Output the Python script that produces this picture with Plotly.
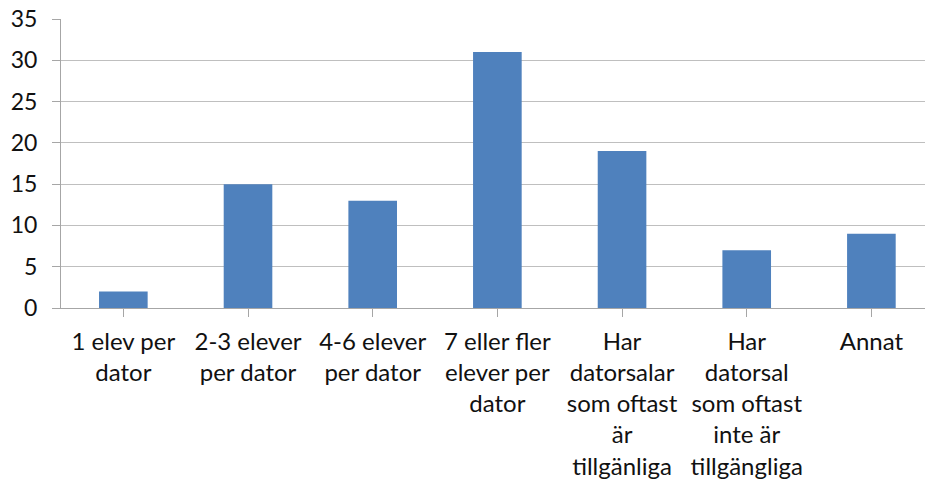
import plotly.graph_objects as go

categories = [
    "1 elev per<br>dator",
    "2-3 elever<br>per dator",
    "4-6 elever<br>per dator",
    "7 eller fler<br>elever per<br>dator",
    "Har<br>datorsalar<br>som oftast<br>är<br>tillgänliga",
    "Har<br>datorsal<br>som oftast<br>inte är<br>tillgängliga",
    "Annat",
]
values = [2, 15, 13, 31, 19, 7, 9]
y_ticks = [0, 5, 10, 15, 20, 25, 30, 35]

bar_color = "#4F81BD"
grid_color = "#BFBFBF"
axis_color = "#A6A6A6"
font_family = "Lato, Carlito, Calibri, 'Open Sans', sans-serif"

fig = go.Figure(
    go.Bar(
        x=list(range(len(categories))),
        y=values,
        marker=dict(color=bar_color, line=dict(width=0)),
        width=0.39,
    )
)

fig.update_layout(
    width=925,
    height=484,
    margin=dict(l=61, r=0, t=19, b=176),
    paper_bgcolor="white",
    plot_bgcolor="white",
    showlegend=False,
    font=dict(family=font_family, size=22, color="#111111"),
)

fig.update_xaxes(
    tickmode="array",
    tickvals=list(range(len(categories))),
    ticktext=categories,
    range=[-0.5, 6.43],
    showgrid=False,
    showline=True,
    linecolor=axis_color,
    linewidth=1,
    ticks="outside",
    ticklen=8,
    tickcolor=axis_color,
    tickangle=0,
    zeroline=False,
    tickfont=dict(size=24),
    ticklabelstandoff=4,
)

fig.update_yaxes(
    range=[0, 35],
    tickmode="array",
    tickvals=y_ticks,
    showgrid=True,
    gridcolor=grid_color,
    gridwidth=1,
    showline=True,
    linecolor=axis_color,
    linewidth=1,
    ticks="outside",
    ticklen=8,
    tickcolor=axis_color,
    zeroline=False,
    tickfont=dict(size=23),
    ticklabelstandoff=10,
)

fig.write_html("out.html")
